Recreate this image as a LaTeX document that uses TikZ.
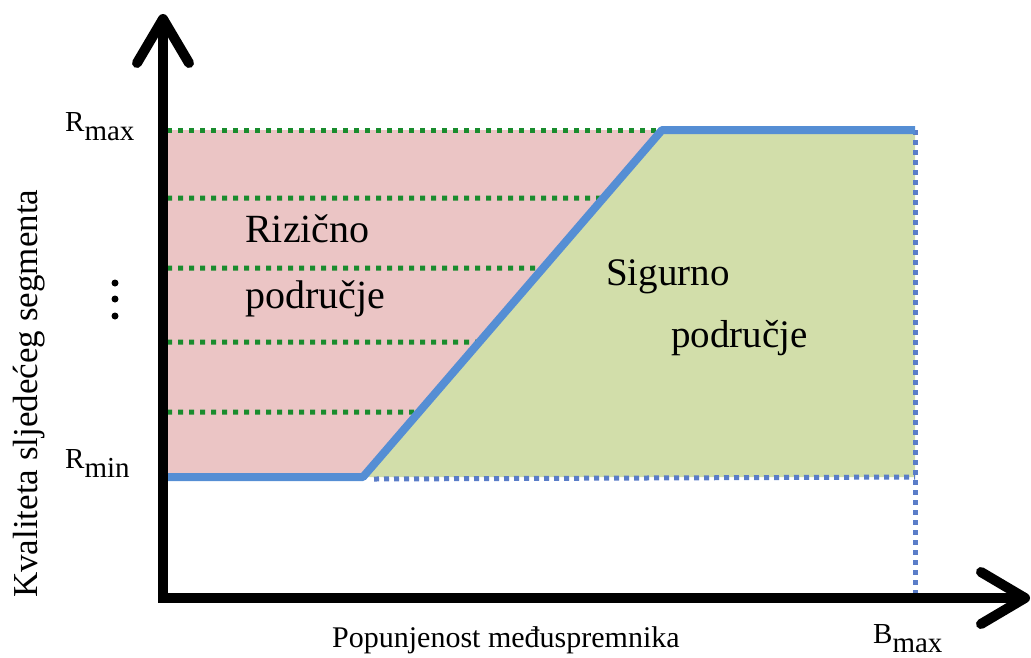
\documentclass[tikz,border=0pt]{standalone}
\usepackage{fontspec}
\setmainfont{Liberation Serif}
\usetikzlibrary{positioning, calc, arrows.meta}

\definecolor{riskpink}{RGB}{235,197,197}
\definecolor{safegreen}{RGB}{210,222,170}
\definecolor{limitblue}{RGB}{85,142,212}
\definecolor{gridgreen}{RGB}{25,140,45}
\definecolor{gridblue}{RGB}{90,125,200}
\newcommand{\lowsub}[1]{\raisebox{-9pt}{#1}}

\begin{document}
\begin{tikzpicture}[x=1pt, y=-1pt,
    every node/.style={inner sep=0pt, anchor=base west},
    axisline/.style={line width=10pt, -{Straight Barb[length=44pt, width=52pt, round]}},
    greendots/.style={gridgreen, line width=5pt, dash pattern=on 5pt off 6pt},
    bluedots/.style={gridblue, line width=5pt, dash pattern=on 5pt off 5pt},
    limit/.style={limitblue, line width=8pt, line join=round}]
    \useasboundingbox (0,0) rectangle (1031,657);
    % curve corners
    \coordinate (o) at (163,598);
    \coordinate (lo) at (363,477);
    \coordinate (hi) at (662,130);
    \coordinate (top) at (915,130);
    \coordinate (bot) at (915,477);
    % regions
    \fill[riskpink] (167,130) -- (hi) -- (lo) -- (167,477) -- cycle;
    \fill[safegreen] (lo) -- (hi) -- (top) -- (bot) -- cycle;
    % grid lines
    \foreach \y in {130,198,268,342,412}
        \draw[greendots] (167,\y) -- ($(lo)!{(477-\y)/347}!(hi)$);
    \draw[bluedots] (374,479) -- (bot);
    \draw[bluedots] (top) -- (915,598);
    % limit curve
    \draw[limit] (167,477) -- (lo) -- (hi) -- (top);
    % axes
    \draw[axisline] (o) -- (163,14);
    \draw[axisline] (158,598) -- (1030,598);
    % labels
    \node[font=\fontsize{29}{29}\selectfont] (rmax) at (65,131) {R\lowsub{max}};
    \node[font=\fontsize{29}{29}\selectfont] (rmin) at (65,468) {R\lowsub{min}};
    \node[font=\fontsize{29}{29}\selectfont] (bmax) at (873,643) {B\lowsub{max}};
    \node[font=\fontsize{30}{30}\selectfont] (xlab) at (332,647) {Popunjenost međuspremnika};
    \node[font=\fontsize{35}{35}\selectfont, rotate=90] (ylab) at (37,598) {Kvaliteta sljedećeg segmenta};
    \node[font=\fontsize{40}{40}\selectfont] (risk) at (245,242) {Rizično};
    \node[font=\fontsize{40}{40}\selectfont] (risk2) at (245,308) {područje};
    \node[font=\fontsize{39}{39}\selectfont] (safe) at (606,285) {Sigurno};
    \node[font=\fontsize{39}{39}\selectfont] (safe2) at (671,347) {područje};
    % vertical dots
    \foreach \y in {283,299,316}
        \fill (115,\y) circle (3.5pt);
\end{tikzpicture}
\end{document}
